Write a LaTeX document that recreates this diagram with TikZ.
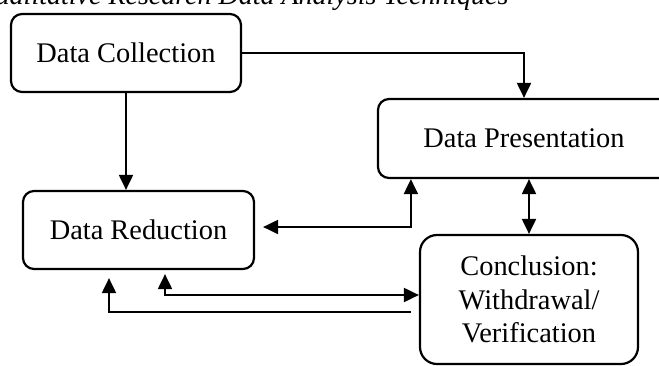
\documentclass[tikz,border=0pt]{standalone}
\usepackage{fontspec}
\setmainfont{Liberation Serif}
\usetikzlibrary{arrows.meta}
\begin{document}
\begin{tikzpicture}[x=1pt,y=-1pt,
  box/.style={draw, line width=2.2pt, rounded corners=11pt, align=center,
    font=\fontsize{28.4}{33.5}\selectfont, inner sep=0pt},
  arr/.style={line width=2pt, -{Triangle[length=15pt,width=14pt]}},
  dbl/.style={line width=2pt, {Triangle[length=15pt,width=14pt]}-{Triangle[length=15pt,width=14pt]}}]
\useasboundingbox (0,0) rectangle (659,365);
\node[anchor=base east, font=\fontsize{28}{33}\selectfont\itshape] (title) at (512,4) {Qualitative Research Data Analysis Techniques};
\node[box, minimum width=230pt, minimum height=78pt] (col) at (126,53) {Data Collection};
\node[box, minimum width=292pt, minimum height=79pt] (pres) at (524,138.5) {Data Presentation};
\node[box, minimum width=231pt, minimum height=78pt] (red) at (138.5,230) {Data Reduction};
\node[box, rounded corners=17pt, minimum width=218pt, minimum height=129pt] (conc) at (529,299.5) {Conclusion:\\Withdrawal/\\Verification};
\draw[arr] (col.east) -| (pres.north);
\draw[arr] (col.south) -- (col.south |- red.north);
\draw[dbl, shorten >=8pt] ([xshift=34pt]pres.south west) |- ([yshift=3pt]red.east);
\draw[dbl] (conc.north |- pres.south) -- (conc.north);
\draw[dbl, shorten <=4pt] ([xshift=26.5pt]red.south) |- ([yshift=4.5pt]conc.west);
\draw[arr, shorten >=8pt] ([xshift=-8pt,yshift=-12.5pt]conc.west) -| ([xshift=-29.5pt]red.south);
\end{tikzpicture}
\end{document}
